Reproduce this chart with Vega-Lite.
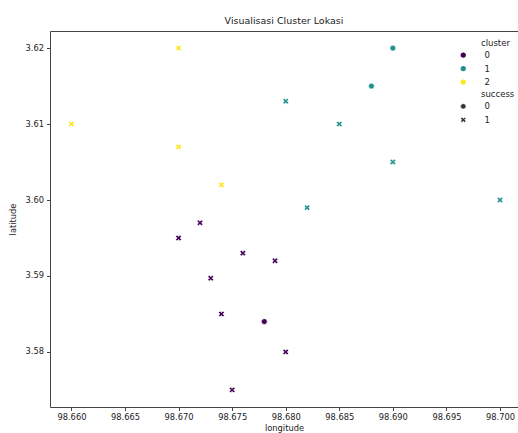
{
  "$schema": "https://vega.github.io/schema/vega-lite/v6.json",
  "width": 468,
  "height": 376,
  "autosize": {"type": "none"},
  "padding": {"left": 50, "top": 31, "right": 0, "bottom": 26},
  "background": "white",
  "title": {
    "text": "Visualisasi Cluster Lokasi",
    "font": "DejaVu Sans",
    "fontSize": 9.5,
    "fontWeight": "normal",
    "color": "#222",
    "anchor": "middle",
    "offset": 6
  },
  "config": {
    "view": {"stroke": "#444", "strokeWidth": 1},
    "axis": {
      "labelFont": "DejaVu Sans",
      "titleFont": "DejaVu Sans",
      "labelFontSize": 8.3,
      "titleFontSize": 8.3,
      "titleFontWeight": "normal",
      "labelColor": "#222",
      "titleColor": "#222",
      "domain": false,
      "grid": false,
      "tickColor": "#444",
      "tickSize": 3.5,
      "labelPadding": 2
    },
    "legend": {
      "labelFont": "DejaVu Sans",
      "titleFont": "DejaVu Sans",
      "labelFontSize": 8.5,
      "titleFontSize": 8.5,
      "titleFontWeight": "normal",
      "labelColor": "#222",
      "titleColor": "#222",
      "padding": 0
    }
  },
  "data": {
    "values": [
      {"longitude": 98.670, "latitude": 3.620, "cluster": "2", "success": "1"},
      {"longitude": 98.660, "latitude": 3.610, "cluster": "2", "success": "1"},
      {"longitude": 98.670, "latitude": 3.607, "cluster": "2", "success": "1"},
      {"longitude": 98.674, "latitude": 3.602, "cluster": "2", "success": "1"},
      {"longitude": 98.690, "latitude": 3.620, "cluster": "1", "success": "0"},
      {"longitude": 98.688, "latitude": 3.615, "cluster": "1", "success": "0"},
      {"longitude": 98.680, "latitude": 3.613, "cluster": "1", "success": "1"},
      {"longitude": 98.685, "latitude": 3.610, "cluster": "1", "success": "1"},
      {"longitude": 98.690, "latitude": 3.605, "cluster": "1", "success": "1"},
      {"longitude": 98.682, "latitude": 3.599, "cluster": "1", "success": "1"},
      {"longitude": 98.700, "latitude": 3.600, "cluster": "1", "success": "1"},
      {"longitude": 98.670, "latitude": 3.595, "cluster": "0", "success": "1"},
      {"longitude": 98.672, "latitude": 3.597, "cluster": "0", "success": "1"},
      {"longitude": 98.676, "latitude": 3.593, "cluster": "0", "success": "1"},
      {"longitude": 98.679, "latitude": 3.592, "cluster": "0", "success": "1"},
      {"longitude": 98.673, "latitude": 3.5897, "cluster": "0", "success": "1"},
      {"longitude": 98.674, "latitude": 3.585, "cluster": "0", "success": "1"},
      {"longitude": 98.678, "latitude": 3.584, "cluster": "0", "success": "0"},
      {"longitude": 98.680, "latitude": 3.580, "cluster": "0", "success": "1"},
      {"longitude": 98.675, "latitude": 3.575, "cluster": "0", "success": "1"}
    ]
  },
  "mark": {"type": "point", "filled": true, "size": 34, "stroke": "white", "strokeWidth": 0.6, "opacity": 1},
  "encoding": {
    "x": {
      "field": "longitude",
      "type": "quantitative",
      "scale": {"domain": [98.658, 98.70168], "nice": false, "zero": false},
      "axis": {"values": [98.66, 98.665, 98.67, 98.675, 98.68, 98.685, 98.69, 98.695, 98.7], "format": ".3f", "titlePadding": 3}
    },
    "y": {
      "field": "latitude",
      "type": "quantitative",
      "scale": {"domain": [3.57275, 3.62225], "nice": false, "zero": false},
      "axis": {"values": [3.58, 3.59, 3.6, 3.61, 3.62], "format": ".2f", "labelPadding": 3, "titlePadding": 8}
    },
    "color": {
      "field": "cluster",
      "type": "nominal",
      "scale": {"domain": ["0", "1", "2"], "range": ["#440154", "#21918c", "#fde725"]},
      "legend": {
        "orient": "none", "legendX": 431, "legendY": 7.5,
        "symbolOffset": -22, "labelOffset": 17, "symbolSize": 28,
        "rowPadding": 4.5, "titlePadding": 3.8, "symbolStrokeWidth": 0
      }
    },
    "shape": {
      "field": "success",
      "type": "nominal",
      "scale": {"domain": ["0", "1"], "range": ["circle", "M-0.5,-1L0,-0.5L0.5,-1L1,-0.5L0.5,0L1,0.5L0.5,1L0,0.5L-0.5,1L-1,0.5L-0.5,0L-1,-0.5Z"]},
      "legend": {
        "orient": "none", "legendX": 431, "legendY": 58.75,
        "symbolOffset": -22, "labelOffset": 17, "symbolSize": 28,
        "symbolFillColor": "#333", "symbolStrokeColor": "white", "symbolStrokeWidth": 0.5,
        "rowPadding": 4.5, "titlePadding": 3.8
      }
    }
  }
}
